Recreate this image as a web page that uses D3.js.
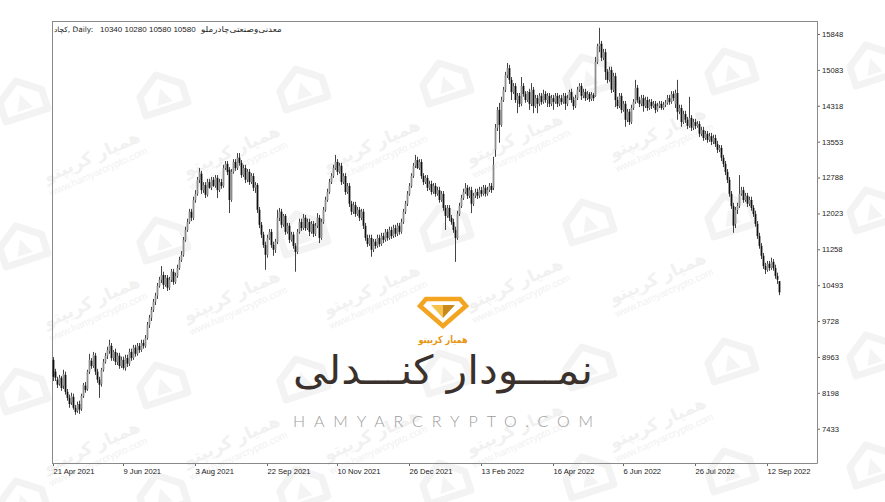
<!DOCTYPE html>
<html><head><meta charset="utf-8">
<script src="https://cdn.jsdelivr.net/npm/d3@7"></script>
<style>html,body{margin:0;padding:0;background:#fff;}svg{display:block}</style>
</head><body>
<svg id="chart" width="885" height="502"></svg>
<script>
// ---- data (daily OHLC) ----
const open = [
8900,8650,8480,8390,8520,8350,8580,8220,8090,7990,
8110,7880,7810,7960,7860,8130,8350,8280,8650,8880,
8770,8990,8650,8480,8390,8690,8860,8990,9090,9200,
8940,9070,8860,8990,8770,8900,8730,8940,8820,9070,
8940,9160,9030,9200,9110,9260,9200,9370,9650,9800,
9970,10140,10270,10480,10610,10710,10500,10650,10440,10610,
10780,10560,10690,10860,11030,11140,11460,11670,11840,12060,
11930,12310,12440,12740,12870,12520,12630,12420,12690,12570,
12740,12610,12780,12520,12690,12610,12990,13080,12950,12310,
12910,13120,12990,13210,13100,12840,12990,12740,12910,12690,
12820,12570,12630,12100,11780,11570,11350,11140,11500,11630,
11350,11250,11420,11930,12060,11780,11970,11630,11760,11460,
11570,11330,11200,11630,11840,11710,11930,11710,11840,11630,
11800,11590,11760,11930,11500,11840,12100,12310,12480,12690,
12820,12990,13120,12910,13040,12690,12820,12480,12610,12230,
12060,12200,12010,12100,11930,12060,11760,11500,11370,11500,
11250,11420,11330,11500,11370,11540,11460,11630,11500,11670,
11540,11710,11590,11760,11630,11840,12060,12230,12440,12610,
12820,13040,13160,12990,13120,12820,12690,12780,12570,12650,
12480,12610,12440,12520,12310,12440,12140,11970,12140,11930,
11840,11670,11500,12010,12180,12350,12480,12570,12400,12520,
12230,12400,12480,12400,12520,12440,12570,12440,12520,12610,
12570,13380,13850,14230,13910,14440,14660,14970,15120,14870,
14610,14740,14440,14530,14360,14740,14570,14440,14610,14360,
14660,14310,14480,14360,14530,14400,14570,14440,14530,14360,
14480,14400,14530,14360,14480,14400,14530,14360,14480,14610,
14440,14310,14480,14660,14740,14530,14610,14480,14570,14460,
14550,14530,15250,15590,15640,15340,15460,15040,14870,15080,
14660,14950,14440,14310,14530,14230,14360,14020,14190,13970,
14270,14400,14700,14440,14360,14480,14310,14440,14270,14400,
14310,14360,14230,14310,14360,14270,14340,14380,14480,14400,
14570,14360,14590,14190,14270,13970,14140,14020,13890,14060,
13850,13970,13890,13930,13720,13800,13630,13720,13590,13670,
13550,13630,13500,13380,13420,13210,13080,12910,12740,12440,
12180,11800,12100,12180,12440,12520,12310,12400,12230,12310,
12140,12010,11800,11540,11330,11120,10900,10820,10950,10860,
10990,10860,10690,10580];
const high = [
8960,8710,8540,8580,8560,8690,8650,8280,8160,8200,
8180,7940,8010,8030,8180,8410,8430,8690,9030,8940,
9070,9050,8710,8540,8730,8920,9050,9180,9330,9260,
9110,9140,9050,9050,8970,8970,9010,9010,9140,9140,
9220,9220,9260,9260,9330,9330,9430,9710,9860,10030,
10200,10330,10540,10670,10900,10780,10710,10710,10670,10840,
10840,10760,10930,11100,11220,11520,11740,11910,12120,12120,
12380,12520,12800,12990,12930,12690,12690,12760,12760,12800,
12800,12840,12840,12760,12760,13060,13140,13140,13010,12970,
13180,13180,13310,13310,13160,13060,13060,12970,12970,12880,
12880,12690,12670,12160,11840,11630,11420,11570,11690,11690,
11420,11480,12100,12140,12120,12010,12010,11820,11820,11630,
11630,11390,11690,11910,11910,12010,11990,11910,11910,11860,
11860,11820,12030,11990,11910,12160,12380,12550,12760,12880,
13060,13270,13180,13100,13100,12880,12880,12670,12670,12290,
12270,12270,12160,12160,12120,12120,11820,11570,11570,11570,
11480,11480,11570,11570,11610,11610,11690,11690,11740,11740,
11780,11780,11820,11820,11910,12120,12290,12500,12670,12880,
13100,13270,13230,13180,13180,12880,12840,12840,12720,12720,
12670,12670,12590,12590,12500,12500,12200,12200,12200,11990,
11910,11740,12080,12250,12420,12550,12670,12630,12590,12590,
12460,12550,12550,12590,12590,12630,12630,12590,12670,12670,
13230,13930,14290,14380,14510,14720,15040,15230,15190,14930,
14800,14800,14590,14590,14930,14800,14630,14630,14680,14800,
14720,14550,14550,14590,14590,14660,14630,14590,14590,14550,
14550,14590,14590,14550,14550,14590,14590,14550,14660,14680,
14510,14550,14720,14800,14800,14680,14680,14630,14610,14610,
14590,15360,15640,15980,15700,15530,15530,15100,15150,15150,
15020,15020,14510,14590,14590,14420,14420,14250,14250,14340,
14460,14870,14760,14510,14550,14550,14510,14510,14460,14460,
14420,14420,14380,14420,14420,14400,14440,14550,14550,14630,
14630,14660,14870,14340,14340,14210,14210,14080,14510,14120,
14040,14040,13990,13990,13870,13870,13780,13780,13740,13740,
13700,13700,13570,13480,13480,13270,13140,12970,12800,12500,
12250,12160,12250,12840,12590,12590,12460,12460,12380,12380,
12200,12080,11860,11610,11390,11180,10970,11010,11010,11080,
11050,10930,10760,10580];
const low = [
8450,8450,8300,8350,8240,8280,8160,8030,7880,7940,
7840,7730,7770,7750,7810,8090,8200,8240,8600,8710,
8730,8580,8410,8090,8330,8650,8820,8920,9030,8880,
8880,8790,8790,8710,8730,8690,8670,8750,8770,8880,
8900,8970,8990,9050,9070,9140,9160,9330,9580,9730,
9920,10070,10200,10440,10540,10410,10460,10370,10390,10560,
10500,10520,10650,10820,10990,11100,11420,11630,11800,11860,
11880,12250,12400,12670,12440,12460,12350,12380,12550,12520,
12590,12570,12350,12480,12550,12570,12950,12840,12030,12270,
12870,12930,12950,13040,12780,12800,12670,12690,12630,12650,
12500,12460,12030,11710,11500,11290,10820,11080,11460,11290,
11120,11180,11370,11860,11710,11740,11570,11590,11390,11420,
11270,10780,11160,11590,11650,11670,11650,11670,11540,11590,
11520,11540,11710,11390,11460,11800,12060,12270,12440,12650,
12780,12950,12840,12870,12630,12650,12420,12440,12160,11990,
12010,11950,11970,11860,11880,11690,11440,11310,11330,11100,
11200,11270,11290,11310,11330,11390,11420,11440,11460,11480,
11500,11520,11540,11570,11590,11800,12010,12180,12400,12570,
12780,12990,12970,12950,12760,12630,12650,12500,12520,12420,
12440,12380,12400,12250,12270,12080,11670,11930,11860,11780,
11610,10990,11460,11970,12140,12310,12440,12330,12350,12030,
12180,12350,12330,12350,12380,12400,12380,12400,12480,12460,
12520,13230,13780,13530,13870,14400,14610,14910,14780,14440,
14570,14380,14160,14290,14310,14510,14380,14400,14230,14310,
14160,14270,14160,14310,14340,14360,14380,14290,14290,14310,
14230,14360,14290,14310,14340,14360,14230,14310,14440,14380,
14230,14270,14440,14610,14440,14480,14420,14440,14400,14420,
14420,14510,15210,15460,15270,15290,14870,14800,14830,14590,
14610,14290,14250,14270,14160,14190,13870,13970,13910,13930,
14230,14360,14380,14290,14310,14190,14270,14210,14230,14250,
14270,14160,14190,14270,14230,14230,14290,14340,14340,14360,
14420,14270,14020,14140,13870,13930,13950,13820,13850,13780,
13800,13820,13850,13650,13670,13570,13590,13530,13550,13480,
13500,13440,13310,13330,13140,13010,12840,12670,12380,12120,
11610,11710,12010,12140,12400,12250,12270,12160,12180,12080,
11950,11740,11480,11270,11050,10840,10730,10780,10800,10820,
10800,10630,10520,10280];
const close = [
8540,8520,8370,8520,8300,8600,8220,8090,7960,8130,
7880,7790,7940,7840,8130,8370,8260,8650,8900,8770,
9010,8650,8480,8370,8690,8860,8990,9110,9220,8940,
9070,8860,8990,8770,8900,8730,8940,8820,9070,8940,
9160,9030,9200,9110,9260,9200,9370,9650,9800,9970,
10140,10270,10480,10610,10710,10500,10650,10440,10610,10780,
10560,10690,10860,11030,11140,11460,11670,11840,12060,11930,
12310,12440,12740,12910,12520,12630,12420,12690,12570,12740,
12610,12780,12520,12690,12610,12990,13080,12910,12310,12910,
13120,12990,13210,13100,12840,12990,12740,12910,12690,12820,
12570,12630,12100,11780,11570,11350,11140,11500,11630,11350,
11250,11420,11930,12060,11780,11970,11630,11760,11460,11570,
11330,11200,11630,11840,11710,11930,11710,11840,11630,11800,
11590,11760,11930,11500,11840,12100,12310,12480,12690,12820,
12990,13120,12910,13040,12690,12820,12480,12610,12230,12060,
12200,12010,12100,11930,12060,11760,11500,11370,11500,11250,
11420,11330,11500,11370,11540,11460,11630,11500,11670,11540,
11710,11590,11760,11630,11840,12060,12230,12440,12610,12820,
13040,13160,12990,13120,12820,12690,12780,12570,12650,12480,
12610,12440,12520,12310,12440,12140,11970,12140,11930,11840,
11670,11500,12010,12180,12350,12480,12570,12400,12520,12230,
12400,12480,12400,12520,12440,12570,12440,12520,12610,12520,
13060,13850,14230,13910,14440,14660,14970,15120,14870,14610,
14740,14440,14530,14360,14740,14570,14440,14610,14360,14660,
14310,14480,14360,14530,14400,14570,14440,14530,14360,14480,
14400,14530,14360,14480,14400,14530,14360,14480,14610,14440,
14310,14480,14660,14740,14530,14610,14480,14570,14460,14550,
14480,15250,15590,15640,15340,15460,15040,14870,15080,14660,
14950,14440,14310,14530,14230,14360,14020,14190,13970,14270,
14400,14700,14440,14360,14480,14310,14440,14270,14400,14310,
14360,14230,14310,14360,14270,14340,14380,14480,14400,14570,
14480,14590,14190,14270,13970,14140,14020,13890,14060,13850,
13970,13890,13930,13720,13800,13630,13720,13590,13670,13550,
13630,13500,13380,13420,13210,13080,12910,12740,12440,12180,
11760,12100,12180,12440,12520,12310,12400,12230,12310,12140,
12010,11800,11540,11330,11120,10900,10820,10950,10860,10990,
10860,10690,10610,10340];

const yTickValues = [15848,15083,14318,13553,12788,12023,11258,10493,9728,8963,8198,7433];
const xTickLabels = ["21 Apr 2021","9 Jun 2021","3 Aug 2021","22 Sep 2021","10 Nov 2021","26 Dec 2021","13 Feb 2022","16 Apr 2022","6 Jun 2022","26 Jul 2022","12 Sep 2022"];
const xTickBars = [0,35,71,107,142,178,214,250,285,321,357];
const symbolCode = "کچاد";
const timeframe = "Daily";
const lastBarText = "10340 10280 10580 10580";
const symbolName = "معدنی‌وصنعتی‌چادرملو";

// ---- layout ----
const svg = d3.select('#chart');
const L = 52, R = 817, T = 21, B = 463;
const x = d3.scaleLinear().domain([0, close.length - 1]).range([53, 779]);
const y = d3.scaleLinear().domain([6702, 16125]).range([B, T]);
const axisFont = '"Liberation Sans", Arial, sans-serif';
const faFont = '"DejaVu Sans", sans-serif';

// ---- faint background watermark ----
const wm = svg.append('g').attr('class', 'watermark');
const iconCols = [22, 162, 302, 445, 588, 730, 872];
const iconRows = [100, 245, 390, 500];
iconRows.forEach((ry) => {
  iconCols.forEach((cx, c) => {
    const gx = cx, gy = ry - c * 6;
    const ic = wm.append('g').attr('transform', `translate(${gx},${gy}) rotate(-18)`);
    ic.append('path').attr('d', 'M-22,-4 L0,-20 L22,-4 L22,16 L-22,16 Z')
      .attr('fill', 'none').attr('stroke', '#f3f3f3').attr('stroke-width', 7).attr('stroke-linejoin', 'round');
    ic.append('path').attr('d', 'M-8,10 L0,-6 L8,10 Z').attr('fill', '#f4f4f4');
    const tx = gx + 72, ty = gy + 62;
    if (tx < 770 && ty < 470) {
      const tg = wm.append('g').attr('transform', `translate(${tx},${ty}) rotate(-24)`);
      tg.append('text').attr('text-anchor', 'middle').attr('font-family', faFont)
        .attr('font-size', 17).attr('font-weight', 'bold').attr('fill', '#f1f1f1').text('همیار کریپتو');
      tg.append('text').attr('text-anchor', 'middle').attr('y', 14).attr('font-family', axisFont)
        .attr('font-size', 10).attr('fill', '#f1f1f1').text('www.hamyarcrypto.com');
    }
  });
});

// ---- center logo ----
const logo = svg.append('g').attr('class', 'logo');
logo.append('path').attr('d', 'M426,299 L460,299 L466,306 L443,326 L420,306 Z')
  .attr('fill', 'none').attr('stroke', '#f3a521').attr('stroke-width', 4.5).attr('stroke-linejoin', 'miter');
logo.append('path').attr('d', 'M431,305 L443,305 L443,318 Z').attr('fill', '#f6c34f');
logo.append('path').attr('d', 'M443,305 L455,305 L443,318 Z').attr('fill', '#c98a1a');
const brand = logo.append('text').attr('x', 443).attr('y', 343).attr('text-anchor', 'middle')
  .attr('font-family', faFont).attr('font-weight', 'bold').attr('font-size', 10).attr('fill', '#e8950f')
  .text('همیار کریپتو');
const title = logo.append('text').attr('x', 443).attr('y', 384).attr('text-anchor', 'middle')
  .attr('font-family', faFont).attr('font-size', 40).attr('fill', '#3b312c')
  .text('نمـــودار کنـــدلی');
function fitWidth(sel, cx, cy, w) {
  const bb = sel.node().getBBox();
  const s = w / bb.width;
  sel.attr('transform', `translate(${cx},${cy}) scale(${s},1) translate(${-cx},${-cy})`);
}
fitWidth(brand, 443, 343, 50);
fitWidth(title, 443, 384, 300);
logo.append('text').attr('x', 293).attr('y', 427)
  .attr('font-family', 'Lato, "Open Sans", sans-serif').attr('font-weight', 300)
  .attr('font-size', 16).attr('fill', '#9d9d9d')
  .attr('textLength', 300).attr('lengthAdjust', 'spacing')
  .text('HAMYARCRYPTO.COM');

// ---- frame ----
const frame = svg.append('g').attr('stroke', '#8a8a8a').attr('stroke-width', 1).attr('shape-rendering', 'crispEdges');
frame.append('line').attr('x1', L).attr('x2', R).attr('y1', T).attr('y2', T);
frame.append('line').attr('x1', L).attr('x2', L).attr('y1', T).attr('y2', B);

// ---- candles ----
svg.append('clipPath').attr('id', 'clip').append('rect')
  .attr('x', L).attr('y', T).attr('width', R - L).attr('height', B - T);
const data = close.map((c, i) => ({ i, o: open[i], h: high[i], l: low[i], c }));
const cg = svg.append('g').attr('clip-path', 'url(#clip)');
cg.selectAll('line.wick').data(data).join('line').attr('class', 'wick')
  .attr('x1', d => x(d.i) + 0.5).attr('x2', d => x(d.i) + 0.5)
  .attr('y1', d => y(d.h)).attr('y2', d => y(d.l))
  .attr('stroke', '#444').attr('stroke-width', 1);
cg.selectAll('rect.body').data(data).join('rect').attr('class', 'body')
  .attr('x', d => x(d.i) - 0.4).attr('width', 1.8)
  .attr('y', d => y(Math.max(d.o, d.c)))
  .attr('height', d => Math.max(1, Math.abs(y(d.o) - y(d.c))))
  .attr('fill', d => d.c >= d.o ? '#8e8e8e' : '#111');

// ---- axes ----
const yAxis = d3.axisRight(y).tickValues(yTickValues).tickSize(3).tickSizeOuter(0).tickPadding(2).tickFormat(d => String(d));
const gy = svg.append('g').attr('transform', `translate(${R},0)`).call(yAxis);
gy.select('.domain').remove();
gy.append('line').attr('x1', 0.5).attr('x2', 0.5).attr('y1', T).attr('y2', B + 0.5).attr('stroke', '#8a8a8a');
gy.selectAll('.tick line').attr('stroke', '#666');
gy.selectAll('.tick text').attr('font-family', axisFont).attr('font-size', 7.6).attr('fill', '#222');

const xAxis = d3.axisBottom(x).tickValues(xTickBars).tickSize(3).tickSizeOuter(0).tickFormat((d, i) => xTickLabels[i]);
const gx = svg.append('g').attr('transform', `translate(0,${B})`).call(xAxis);
gx.select('.domain').remove();
gx.append('line').attr('x1', L).attr('x2', R + 0.5).attr('y1', 0.5).attr('y2', 0.5).attr('stroke', '#8a8a8a');
gx.selectAll('.tick line').attr('stroke', '#666');
gx.selectAll('.tick text').attr('font-family', axisFont).attr('font-size', 7.6).attr('fill', '#222')
  .attr('text-anchor', 'start').attr('x', 0).attr('y', 11).attr('dy', 0);

// ---- header ----
const hd = svg.append('g').attr('font-size', 8).attr('fill', '#222');
hd.append('text').attr('x', 54).attr('y', 32).attr('font-family', faFont).attr('font-size', 7.4).text(symbolCode + ', ' + timeframe + ':');
hd.append('text').attr('x', 100).attr('y', 32).attr('font-family', axisFont).text(lastBarText);
const nm = hd.append('text').attr('x', 201).attr('y', 32).attr('font-family', faFont).attr('font-size', 8).text(symbolName);
{ const w = nm.node().getBBox().width; const s = 82 / w;
  nm.attr('transform', `translate(201,32) scale(${s},1) translate(-201,-32)`); }
</script>
</body></html>
